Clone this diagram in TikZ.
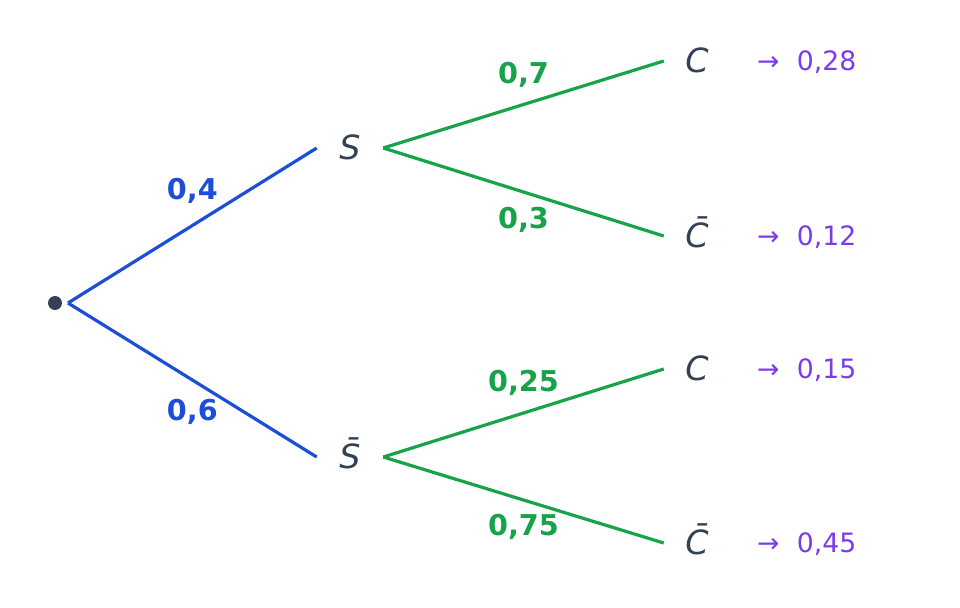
\documentclass[tikz,border=0pt]{standalone}
\usepackage{fontspec}
\setmainfont{DejaVu Sans}
\usetikzlibrary{positioning}
\definecolor{astblau}{HTML}{1D4ED8}
\definecolor{astgruen}{HTML}{16A34A}
\definecolor{knoten}{HTML}{334155}
\definecolor{ergebnis}{HTML}{7C3AED}
\tikzstyle{ereignis} = [inner sep=0pt, minimum width=49.5pt, text height=17.5pt, text depth=0pt, text=knoten, font=\fontsize{25}{29}\selectfont\itshape]
\tikzstyle{ast1} = [draw=astblau, line width=2.4pt]
\tikzstyle{ast2} = [draw=astgruen, line width=2.4pt]
\tikzstyle{wkeit} = [midway, font=\fontsize{21.5}{25}\selectfont\bfseries]
\tikzstyle{ergebnis} = [anchor=west, inner sep=0pt, text height=14.5pt, text depth=0pt, text=ergebnis, font=\fontsize{20}{24}\selectfont]
\begin{document}
\begin{tikzpicture}[x=0.75pt, y=-0.75pt]
        \useasboundingbox (0,0) rectangle (960,607);
        
        \node[circle, fill=knoten, inner sep=0pt, minimum size=10.5pt, outer sep=4.5pt] (wurzel) at (55,303) {};
        
        \node[ereignis] (s) at (350,148) {S};
        \node[ereignis] (sbar) at (350,457) {S̄};
        
        \node[ereignis] (c1) at (697,61) {C};
        \node[ereignis] (c2) at (697,236) {C̄};
        \node[ereignis] (c3) at (697,369) {C};
        \node[ereignis] (c4) at (697,543) {C̄};
        
        \draw[ast1] (wurzel.center) ++(13,0) -- (s.west) node[wkeit, text=astblau, yshift=26pt] {0,4};
        \draw[ast1] (wurzel.center) ++(13,0) -- (sbar.west) node[wkeit, text=astblau, yshift=-24pt] {0,6};
        
        \draw[ast2] (s.east) -- (c1.west) node[wkeit, text=astgruen, yshift=22.5pt] {0,7};
        \draw[ast2] (s.east) -- (c2.west) node[wkeit, text=astgruen, yshift=-21pt] {0,3};
        \draw[ast2] (sbar.east) -- (c3.west) node[wkeit, text=astgruen, yshift=22.5pt] {0,25};
        \draw[ast2] (sbar.east) -- (c4.west) node[wkeit, text=astgruen, yshift=-20pt] {0,75};
        
        \node[ergebnis, right=20pt of c1.east] (p1) {→\hspace{13pt}0,28};
        \node[ergebnis, right=20pt of c2.east] (p2) {→\hspace{13pt}0,12};
        \node[ergebnis, right=20pt of c3.east] (p3) {→\hspace{13pt}0,15};
        \node[ergebnis, right=20pt of c4.east] (p4) {→\hspace{13pt}0,45};
    \end{tikzpicture}
\end{document}
